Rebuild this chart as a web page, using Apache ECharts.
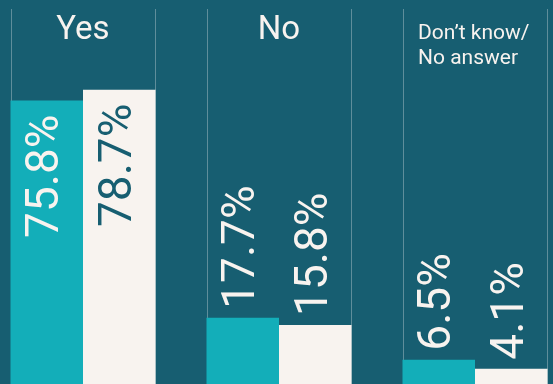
<!DOCTYPE html>
<html>
<head>
<meta charset="utf-8">
<script src="https://cdn.jsdelivr.net/npm/echarts@6/dist/echarts.min.js"></script>
<style>
  html, body { margin: 0; padding: 0; background: #175e71; overflow: hidden; }
  /* the plot runs slightly past both window edges */
  #chart { position: absolute; left: -15px; top: 0; width: 588px; height: 384px; }
</style>
</head>
<body>
<div id="chart"></div>
<script>
// Answer groups and the two compared shares (percent)
const categories = ['Yes', 'No', 'Don’t know/\nNo answer'];
const firstValues = [75.8, 17.7, 6.5];
const secondValues = [78.7, 15.8, 4.1];

const BG = '#175e71';
const TEAL = '#13aeb9';
const LIGHT = '#f8f3ef';
const RULE = '#5f8e9b';
const AXIS_MAX = 100;
const BAR_W = 72.5;
const FONT = 'Roboto, "Noto Sans", sans-serif';
const INSIDE_MIN = 50; // tall bars carry their label inside

function buildData(values, insideColor) {
  return values.map(v => {
    const inside = v >= INSIDE_MIN;
    return {
      value: v,
      label: inside
        ? { position: 'insideTop', align: 'right', distance: 14, color: insideColor }
        : { position: 'top', align: 'left', distance: 9, color: LIGHT }
    };
  });
}

function titleFormatter(value) {
  const lines = value.split('\n');
  if (lines.length === 1) return '{big|' + value + '}';
  return lines.map((l, i) => (i === 0 ? '{dk1|' : '{dk|') + l + '}').join('\n');
}

const chart = echarts.init(document.getElementById('chart'));
chart.setOption({
  backgroundColor: BG,
  animation: false,
  grid: { left: 0, right: 0, top: 10, bottom: -1, containLabel: false },
  xAxis: {
    type: 'category',
    data: categories,
    position: 'top',
    axisLine: { show: false },
    axisTick: { show: false },
    axisLabel: {
      inside: true,
      interval: 0,
      margin: 4,
      color: LIGHT,
      fontSize: 21,
      fontFamily: FONT,
      formatter: titleFormatter,
      rich: {
        big: { fontSize: 33, lineHeight: 34, color: LIGHT, fontFamily: FONT },
        dk1: { fontSize: 21, lineHeight: 39, width: 114, align: 'left', color: LIGHT, fontFamily: FONT },
        dk: { fontSize: 21, lineHeight: 12, width: 114, align: 'left', color: LIGHT, fontFamily: FONT }
      }
    }
  },
  yAxis: {
    type: 'value',
    min: 0,
    max: AXIS_MAX,
    show: false,
    splitLine: { show: false }
  },
  series: [
    {
      // vertical rules framing each answer group
      type: 'custom',
      z: 1,
      silent: true,
      data: categories.map((c, i) => [i, AXIS_MAX]),
      encode: { x: 0, y: 1 },
      renderItem(params, api) {
        const i = api.value(0);
        const base = api.coord([i, 0]);
        const top = api.coord([i, AXIS_MAX]);
        const style = { stroke: RULE, lineWidth: 1 };
        const xl = Math.round(base[0] - BAR_W) + 0.5;
        const xr = Math.round(base[0] + BAR_W) - 0.5;
        return {
          type: 'group',
          children: [
            { type: 'line', shape: { x1: xl, y1: top[1] - 1, x2: xl, y2: base[1] }, style },
            { type: 'line', shape: { x1: xr, y1: top[1] - 1, x2: xr, y2: base[1] }, style }
          ]
        };
      }
    },
    {
      name: 'first',
      type: 'bar',
      z: 2,
      barWidth: BAR_W,
      barGap: '0%',
      itemStyle: { color: TEAL },
      label: {
        show: true,
        rotate: 90,
        verticalAlign: 'middle',
        fontSize: 46,
        fontFamily: FONT,
        formatter: p => p.value.toFixed(1) + '%'
      },
      data: buildData(firstValues, LIGHT)
    },
    {
      name: 'second',
      type: 'bar',
      z: 2,
      barWidth: BAR_W,
      barGap: '0%',
      itemStyle: { color: LIGHT },
      label: {
        show: true,
        rotate: 90,
        verticalAlign: 'middle',
        fontSize: 46,
        fontFamily: FONT,
        formatter: p => p.value.toFixed(1) + '%'
      },
      data: buildData(secondValues, BG)
    }
  ]
});
</script>
</body>
</html>
